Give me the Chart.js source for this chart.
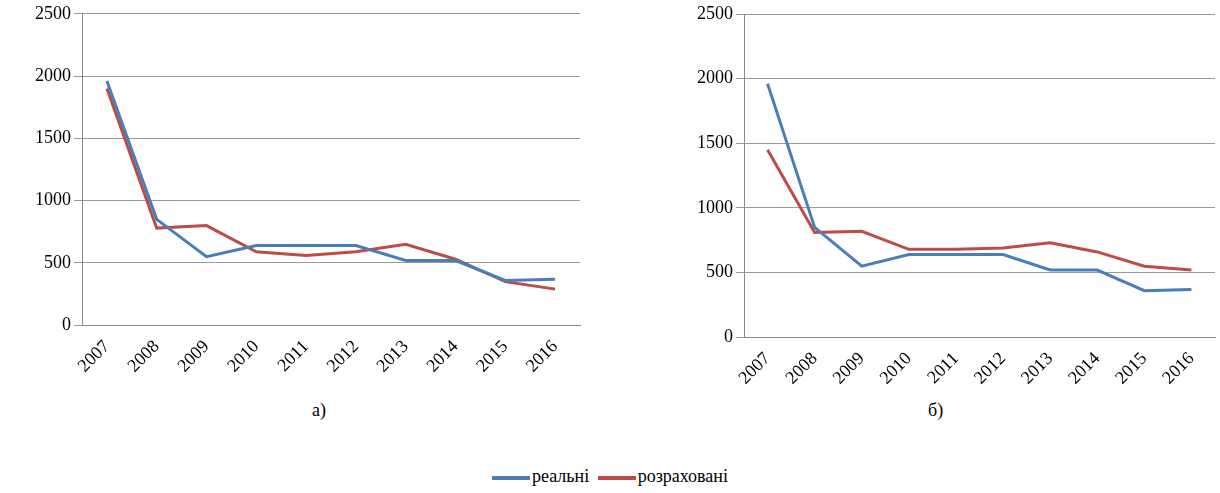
<!DOCTYPE html>
<html><head><meta charset="utf-8">
<script src="https://cdn.jsdelivr.net/npm/chart.js@4"></script>
<style>
body{margin:0;background:#fff;width:1220px;height:493px;position:relative;font-family:'Liberation Serif','DejaVu Serif',serif;}
.c{position:absolute;}
.lab{position:absolute;font-size:18px;}
#leg{position:absolute;top:466px;left:0;width:1220px;text-align:center;font-size:18px;}
.sw{display:inline-block;width:38px;height:4px;vertical-align:middle;margin-right:2px;}
</style></head><body>
<div class="c" style="left:0;top:0;width:590px;height:380px"><canvas id="a"></canvas></div>
<div class="c" style="left:660px;top:0;width:560px;height:392px"><canvas id="b"></canvas></div>
<div class="lab" style="left:312px;top:400px">а)</div>
<div class="lab" style="left:928px;top:400px">б)</div>
<div id="leg"><span class="sw" style="background:#4a7ebb"></span>реальні <span class="sw" style="background:#be4b48;margin-left:4px"></span>розраховані</div>
<script>
Chart.defaults.font.family="'Liberation Serif', 'DejaVu Serif', serif";
const years=["2007","2008","2009","2010","2011","2012","2013","2014","2015","2016"];
const real=[1960,850,550,640,640,640,520,520,360,370];
const calcA=[1900,780,800,590,560,590,650,530,350,290];
const calcB=[1450,810,820,680,680,690,730,660,550,520];
function mk(id,calc,pad){
new Chart(document.getElementById(id),{type:'line',
data:{labels:years,datasets:[
{data:real,borderColor:'#4a7ebb',borderWidth:3,pointRadius:0,tension:0},
{data:calc,borderColor:'#be4b48',borderWidth:3,pointRadius:0,tension:0}]},
options:{responsive:true,maintainAspectRatio:false,animation:false,
layout:{padding:pad},
plugins:{legend:{display:false},tooltip:{enabled:false}},
scales:{x:{offset:true,grid:{display:false},border:{color:'#888'},
ticks:{color:'#000',font:{size:18},maxRotation:45,minRotation:45}},
y:{min:0,max:2500,ticks:{stepSize:500,color:'#000',font:{size:18},callback:v=>String(v)},
grid:{color:'#999'},border:{color:'#888'}}}}});
}
mk('a',calcA,{left:32,top:12,right:10,bottom:0});
mk('b',calcB,{left:34,top:14,right:5,bottom:0});
</script></body></html>
